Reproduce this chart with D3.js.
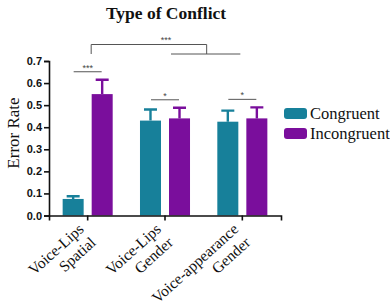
<!DOCTYPE html>
<html>
<head>
<meta charset="utf-8">
<script src="https://cdn.jsdelivr.net/npm/d3@7"></script>
<style>
  body { margin: 0; background: #fff; }
  .tick text { font-family: Arial, "Liberation Sans", sans-serif; font-weight: bold; font-size: 11px; fill: #111; }
  .serif { font-family: "Liberation Serif", "Times New Roman", serif; fill: #111; }
</style>
</head>
<body>
<div id="chart"></div>
<script>
// data
const categories = [["Voice-Lips", "Spatial"], ["Voice-Lips", "Gender"], ["Voice-appearance", "Gender"]];
const series = ["Congruent", "Incongruent"];
const congruentMeans = [0.075, 0.43, 0.425];
const congruentErr = [0.012, 0.05, 0.05];
const incongruentMeans = [0.55, 0.44, 0.44];
const incongruentErr = [0.065, 0.048, 0.05];
const yTicks = [0, 0.1, 0.2, 0.3, 0.4, 0.5, 0.6, 0.7];
const pairSig = ["***", "*", "*"];

const width = 390, height = 306;
const colors = { Congruent: "#17809a", Incongruent: "#7a0e9c" };

const svg = d3.select("#chart").append("svg")
    .attr("width", width)
    .attr("height", height);

const catKeys = categories.map(c => c.join(" "));
const data = catKeys.map((k, i) => ({
    key: k,
    values: [
        { s: "Congruent", v: congruentMeans[i], e: congruentErr[i] },
        { s: "Incongruent", v: incongruentMeans[i], e: incongruentErr[i] }
    ]
}));

// scales
const x0 = d3.scaleBand().domain(catKeys).range([49, 281])
    .paddingInner(0.353).paddingOuter(0.1765);
const x1 = d3.scaleBand().domain(series).range([0, x0.bandwidth()]).paddingInner(0.276);
const y = d3.scaleLinear().domain([0, 0.7]).range([215.5, 61]);

// bars
const groups = svg.append("g").selectAll("g")
    .data(data).join("g")
    .attr("transform", d => `translate(${x0(d.key)},0)`);

groups.selectAll("rect")
    .data(d => d.values).join("rect")
    .attr("x", d => x1(d.s))
    .attr("y", d => y(d.v))
    .attr("width", x1.bandwidth())
    .attr("height", d => y(0) - y(d.v))
    .attr("fill", d => colors[d.s]);

// error bars (upper only)
const capW = 13;
groups.selectAll("path.err")
    .data(d => d.values).join("path")
    .attr("class", "err")
    .attr("fill", "none")
    .attr("stroke", d => colors[d.s])
    .attr("stroke-width", 2.4)
    .attr("d", d => {
        const cx = x1(d.s) + x1.bandwidth() / 2;
        return `M${cx},${y(d.v)}V${y(d.v + d.e)}M${cx - capW / 2},${y(d.v + d.e)}H${cx + capW / 2}`;
    });

// axes
svg.append("g")
    .attr("transform", "translate(49,0)")
    .call(d3.axisLeft(y).tickValues(yTicks).tickFormat(d3.format(".1f")).tickSizeOuter(0).tickSize(5).tickPadding(2));
svg.append("g")
    .attr("transform", `translate(0,${y(0)})`)
    .call(d3.axisBottom(x0).tickSizeOuter(0).tickSize(5).tickFormat(""));
svg.selectAll(".domain, .tick line").attr("stroke", "#111").attr("stroke-width", 1.6);

// x category labels, rotated, right aligned
categories.forEach((c, i) => {
    const cx = x0(catKeys[i]) + x0.bandwidth() / 2;
    const t = svg.append("text")
        .attr("class", "serif")
        .attr("font-size", 15.5)
        .attr("text-anchor", "end")
        .attr("transform", `translate(${cx - 3},${y(0) + 15}) rotate(-42)`);
    c.forEach((line, j) => {
        t.append("tspan")
            .attr("x", 0)
            .attr("dy", j === 0 ? 0 : 18)
            .text(line);
    });
});

// title and axis label
svg.append("text")
    .attr("class", "serif")
    .attr("x", 166).attr("y", 19)
    .attr("text-anchor", "middle")
    .attr("font-size", 17.5).attr("font-weight", "bold")
    .text("Type of Conflict");

svg.append("text")
    .attr("class", "serif")
    .attr("transform", "translate(19,133) rotate(-90)")
    .attr("text-anchor", "middle")
    .attr("font-size", 17)
    .text("Error Rate");

// significance markers
const sig = svg.append("g").attr("stroke", "#555").attr("stroke-width", 1).attr("fill", "none");
catKeys.forEach((k, i) => {
    const top = d3.max(data[i].values, d => d.v + d.e);
    const ly = y(top) - 8;
    const cx = x0(k) + x0.bandwidth() / 2;
    sig.append("line")
        .attr("x1", cx - 14).attr("x2", cx + 14)
        .attr("y1", ly).attr("y2", ly);
    svg.append("text")
        .attr("x", cx).attr("y", ly - 1)
        .attr("text-anchor", "middle")
        .attr("font-family", "Arial, sans-serif")
        .attr("font-size", 9)
        .attr("fill", "#444")
        .text(pairSig[i]);
});

// overall bracket: spatial incongruent vs the two gender conditions
const leftX = x0(catKeys[0]) + x1("Incongruent") + x1.bandwidth() / 2 - 11;
const g2 = x0(catKeys[1]) + x0.bandwidth() / 2;
const g3 = x0(catKeys[2]) + x0.bandwidth() / 2;
const rightX = (g2 + g3) / 2 + 3;
const topY = 44.5, lowY = 54;
sig.append("path")
    .attr("d", `M${leftX},${lowY}V${topY}H${rightX}V${lowY}`);
sig.append("line")
    .attr("x1", g2 + 6).attr("x2", g3 - 2)
    .attr("y1", lowY).attr("y2", lowY);
svg.append("text")
    .attr("x", (leftX + rightX) / 2 + 17).attr("y", topY - 2)
    .attr("text-anchor", "middle")
    .attr("font-family", "Arial, sans-serif")
    .attr("font-size", 9)
    .attr("fill", "#444")
    .text("***");

// legend
const legend = svg.append("g").attr("transform", "translate(284,108)");
series.forEach((s, i) => {
    legend.append("rect")
        .attr("x", 0).attr("y", i * 20)
        .attr("width", 23).attr("height", 11)
        .attr("rx", 3)
        .attr("fill", colors[s]);
    legend.append("text")
        .attr("class", "serif")
        .attr("x", 26).attr("y", i * 20 + 10.5)
        .attr("font-size", 16.5)
        .text(s);
});
</script>
</body>
</html>
